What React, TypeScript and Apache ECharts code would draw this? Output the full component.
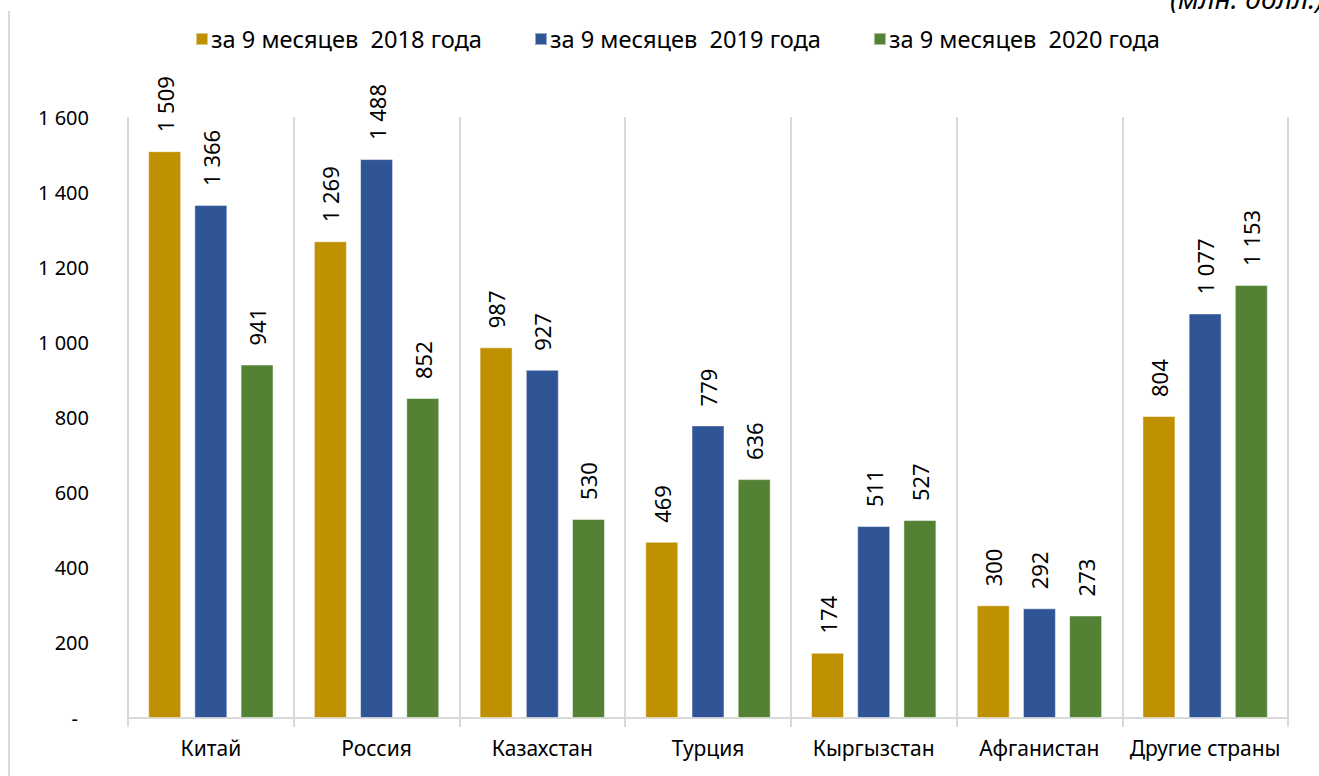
import React, { useEffect, useRef } from "react";
import * as echarts from "echarts";

const categories = ["Китай", "Россия", "Казахстан", "Турция", "Кыргызстан", "Афганистан", "Другие страны"];
const seriesNames = ["за 9 месяцев  2018 года", "за 9 месяцев  2019 года", "за 9 месяцев  2020 года"];
const values2018 = [1509, 1269, 987, 469, 174, 300, 804];
const values2019 = [1366, 1488, 927, 779, 511, 292, 1077];
const values2020 = [941, 852, 530, 636, 527, 273, 1153];
const colors = ["#BF9000", "#2F5597", "#548235"];
const unitLabel = "(млн. долл.)";

const FONT = "'Noto Sans', 'Open Sans', sans-serif";

function fmt(v: number): string {
  return String(Math.round(v)).replace(/\B(?=(\d{3})+(?!\d))/g, " ");
}

export default function App() {
  const ref = useRef<HTMLDivElement>(null);
  useEffect(() => {
    if (!ref.current) return;
    const chart = echarts.init(ref.current, undefined, { renderer: "svg" });
    const data = [values2018, values2019, values2020];
    chart.setOption({
      animation: false,
      backgroundColor: "#ffffff",
      textStyle: { fontFamily: FONT },
      grid: { left: 128, right: 31, top: 117, bottom: 58, containLabel: false },
      legend: {
        left: 190,
        top: 22,
        itemWidth: 12,
        itemHeight: 12,
        itemGap: 52,
        icon: "rect",
        formatter: (name: string) => name.replace("  ", " \u00a0"),
        textStyle: { fontSize: 23.6, color: "#000", fontFamily: FONT, padding: [0, 0, 0, -2] },
        data: seriesNames,
      },
      xAxis: {
        type: "category",
        data: categories,
        boundaryGap: true,
        axisLine: { show: true, lineStyle: { color: "#d9d9d9", width: 2 } },
        axisTick: { show: true, length: 9, interval: 0, lineStyle: { color: "#d9d9d9", width: 2 } },
        splitLine: { show: true, interval: 0, lineStyle: { color: "#d9d9d9", width: 2 } },
        axisLabel: { interval: 0, fontSize: 21, color: "#000", margin: 19, fontFamily: FONT },
      },
      yAxis: {
        type: "value",
        min: 0,
        max: 1600,
        interval: 200,
        axisLine: { show: false },
        axisTick: { show: false },
        splitLine: { show: false },
        axisLabel: {
          fontSize: 20,
          color: "#000",
          margin: 39,
          fontFamily: FONT,
          formatter: (v: number) => (v === 0 ? "{d|-}" : fmt(v)),
          rich: { d: { fontSize: 20, color: "#000", padding: [0, 11, 0, 0], fontFamily: FONT } },
        },
      },
      series: seriesNames.map((name, i) => ({
        name,
        type: "bar",
        data: data[i],
        barWidth: 33,
        barGap: "40%",
        itemStyle: { color: colors[i], borderColor: "rgba(255,255,255,0.5)", borderWidth: 1 },
        label: {
          show: true,
          position: "top",
          rotate: 90,
          align: "left",
          verticalAlign: "middle",
          distance: 19,
          fontSize: 22,
          color: "#000",
          fontFamily: FONT,
          formatter: (p: any) => fmt(p.value),
        },
      })),
      graphic: [
        {
          type: "line",
          shape: { x1: 9, y1: 11, x2: 9, y2: 776 },
          style: { stroke: "#d9d9d9", lineWidth: 2 },
          silent: true,
        },
        {
          type: "text",
          left: 1170,
          top: -16,
          style: { text: unitLabel, fontSize: 28, fontStyle: "italic", fill: "#000", fontFamily: FONT },
          silent: true,
        },
      ],
    });
    return () => chart.dispose();
  }, []);
  return <div ref={ref} style={{ position: "absolute", left: 0, top: 0, width: 1319, height: 776 }} />;
}
